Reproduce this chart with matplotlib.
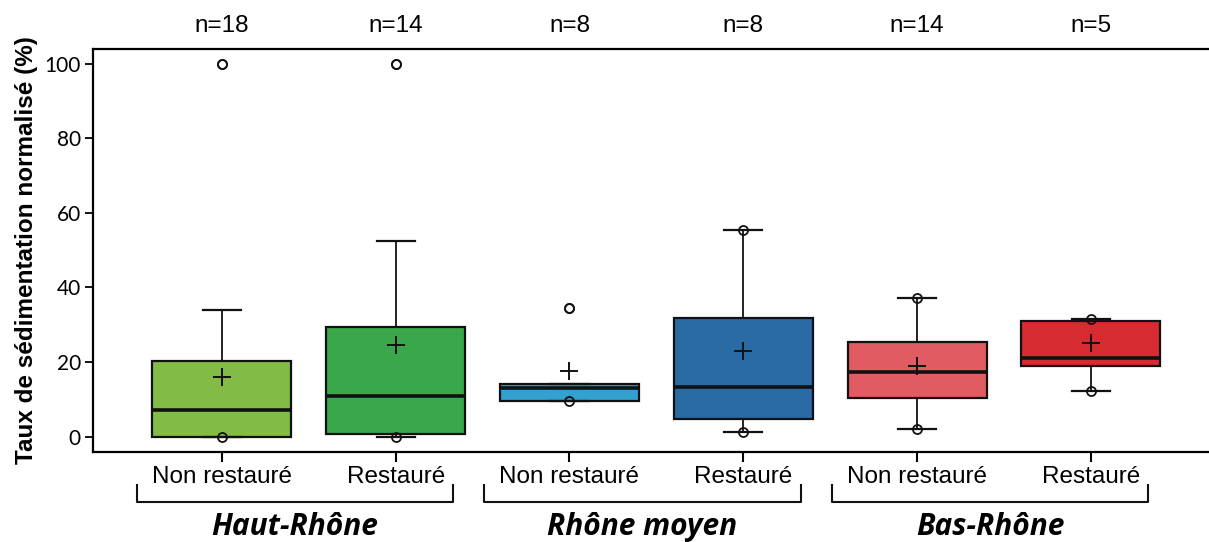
import matplotlib.pyplot as plt

groups = ["Haut-Rhône", "Rhône moyen", "Bas-Rhône"]
categories = ["Non restauré", "Restauré", "Non restauré", "Restauré", "Non restauré", "Restauré"]
counts = [18, 14, 8, 8, 14, 5]

# box statistics (%)
q1 = [0.0, 0.6, 9.6, 4.6, 10.4, 18.9]
medians = [7.1, 10.9, 13.1, 13.4, 17.2, 21.2]
q3 = [20.4, 29.3, 14.0, 31.9, 25.3, 31.1]
whis_lo = [0.0, 0.0, 9.6, 1.3, 2.1, 12.1]
whis_hi = [34.0, 52.5, 14.0, 55.5, 37.3, 31.6]
means = [15.9, 24.6, 17.7, 22.9, 18.9, 25.0]
outliers = [[100.0], [100.0], [34.6], [], [], []]
mins = [0.0, 0.0, 9.6, 1.3, 2.1, 12.1]
maxs = [100.0, 100.0, 34.6, 55.5, 37.3, 31.6]

colors = ["#82BC45", "#3AA84A", "#33A1D0", "#2A6AA5", "#E05C62", "#D62B31"]

positions = list(range(1, len(categories) + 1))

stats = []
for i in range(len(categories)):
    stats.append({
        "q1": q1[i], "med": medians[i], "q3": q3[i],
        "whislo": whis_lo[i], "whishi": whis_hi[i],
        "mean": means[i], "fliers": outliers[i],
    })

fig = plt.figure(figsize=(12.09, 5.42), dpi=100)
ax = fig.add_axes([0.0772, 0.1664, 0.9228, 0.7432])

bp = ax.bxp(
    stats,
    positions=positions,
    widths=0.8,
    capwidths=0.22,
    patch_artist=True,
    showmeans=True,
    boxprops={"linewidth": 1.6, "edgecolor": "#111111"},
    medianprops={"color": "#111111", "linewidth": 2.6},
    whiskerprops={"color": "#111111", "linewidth": 1.3},
    capprops={"color": "#111111", "linewidth": 1.6},
    meanprops={"marker": "+", "markersize": 13, "markeredgecolor": "#111111",
               "markeredgewidth": 1.4},
    flierprops={"marker": "o", "markersize": 6.5, "markerfacecolor": "none",
                "markeredgecolor": "#111111", "markeredgewidth": 1.3},
)
for patch, c in zip(bp["boxes"], colors):
    patch.set_facecolor(c)

# min / max markers
ax.plot(positions, mins, "o", ms=6.5, mfc="none", mec="#111111", mew=1.3, zorder=4)
ax.plot(positions, maxs, "o", ms=6.5, mfc="none", mec="#111111", mew=1.3, zorder=4)

ax.set_xlim(0.26, 6.68)
ax.set_ylim(-4.1, 104.0)
ax.set_yticks([0, 20, 40, 60, 80, 100])
ax.set_xticks(positions)
ax.set_xticklabels(categories, fontsize=17.5, family="Liberation Sans")
for lbl in ax.get_yticklabels():
    lbl.set_fontfamily("Lato")
    lbl.set_fontsize(15)
ax.tick_params(axis="y", length=6, width=1.3, pad=3)
ax.tick_params(axis="x", length=7, width=1.5, pad=3)

ax.spines["right"].set_visible(False)
for s in ["left", "top", "bottom"]:
    ax.spines[s].set_linewidth(1.6)

ax.set_ylabel("Taux de sédimentation normalisé (%)", fontsize=17.5,
              fontweight="bold", family="Liberation Sans", labelpad=5)

# sample sizes above the plot
for p, n in zip(positions, counts):
    ax.text(p, 1.057, f"n={n}", transform=ax.get_xaxis_transform(),
            ha="center", va="center", fontsize=17.5, family="Liberation Sans")

# brackets and region names
trans = ax.get_xaxis_transform()
for g, name in enumerate(groups):
    a = positions[2 * g] - 0.49
    b = positions[2 * g + 1] + 0.33
    ax.plot([a, a, b, b], [-0.082, -0.1246, -0.1246, -0.082], color="#111111",
            lw=1.5, transform=trans, clip_on=False, solid_joinstyle="round")
    ax.text((a + b) / 2, -0.187, name, transform=trans, ha="center", va="center",
            fontsize=21.5, fontweight="bold", fontstyle="italic", family="Open Sans")

fig.savefig("out.png", dpi=100)
